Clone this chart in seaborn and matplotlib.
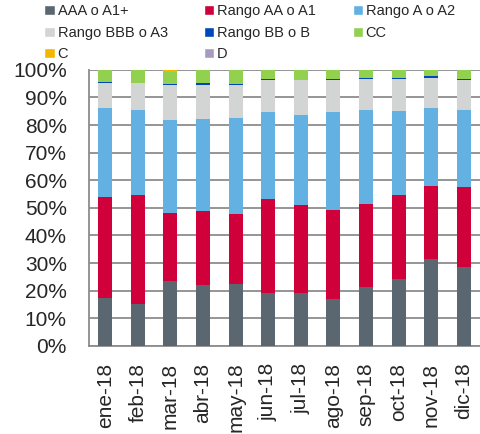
import numpy as np
import pandas as pd
import matplotlib
matplotlib.use("Agg")
import matplotlib.pyplot as plt
import seaborn as sns
from matplotlib.patches import Patch
from matplotlib.ticker import FixedLocator

months = ["ene-18", "feb-18", "mar-18", "abr-18", "may-18", "jun-18",
          "jul-18", "ago-18", "sep-18", "oct-18", "nov-18", "dic-18"]

# share of portfolio (%) by rating bucket
aaa = [17.2, 15.3, 23.5, 22.2, 22.6, 19.2, 19.2, 16.9, 21.2, 24.1, 31.6, 28.7]
aa = [36.9, 39.4, 24.6, 26.5, 25.2, 34.0, 31.9, 32.4, 30.3, 30.6, 26.5, 28.8]
a = [32.2, 30.9, 33.6, 33.5, 34.6, 31.5, 32.5, 35.4, 33.9, 30.3, 28.1, 28.1]
bbb = [9.0, 9.5, 12.8, 12.5, 12.1, 11.6, 12.6, 11.6, 11.4, 11.8, 11.0, 10.9]
bb = [0.4, 0.3, 0.5, 0.4, 0.5, 0.3, 0.2, 0.5, 0.4, 0.4, 0.4, 0.2]
cc = [4.1, 4.4, 4.3, 4.7, 4.8, 3.2, 3.4, 3.0, 2.6, 2.6, 2.2, 3.1]
c = [0.0, 0.0, 0.5, 0.0, 0.0, 0.0, 0.0, 0.0, 0.0, 0.0, 0.0, 0.0]
d = [0.2, 0.2, 0.2, 0.2, 0.2, 0.2, 0.2, 0.2, 0.2, 0.2, 0.2, 0.2]

series = ["AAA o A1+", "Rango AA o A1", "Rango A o A2", "Rango BBB o A3",
          "Rango BB o B", "CC", "C", "D"]
colors = ["#5b6770", "#d0003a", "#63b0e3", "#d3d4d4",
          "#0047bb", "#92d050", "#f2b700", "#a89bbf"]

df = pd.DataFrame(dict(zip(series, [aaa, aa, a, bbb, bb, cc, c, d])), index=months)
cum = df.cumsum(axis=1)

sns.set_style("white")
plt.rcParams["font.family"] = ["Liberation Sans", "DejaVu Sans"]

fig = plt.figure(figsize=(4.81, 4.34), dpi=100)
ax = fig.add_axes([0.185, 0.203, 0.813, 0.636])

# stacked bars: draw cumulative totals from top layer down
for name, col in reversed(list(zip(series, colors))):
    sns.barplot(x=months, y=cum[name].values, color=col, width=0.43,
                saturation=1, linewidth=0, ax=ax, zorder=3)

ax.set_ylim(0, 100)
ax.set_xlim(-0.5, len(months) - 0.5)
ax.set_yticks(np.arange(0, 101, 10))
ax.set_yticklabels([f"{v}%" for v in range(0, 101, 10)], fontsize=15)
ax.grid(axis="y", color="#8c8c8c", linewidth=1.3, zorder=0)
ax.set_axisbelow(True)

ax.set_xticks(range(len(months)))
ax.set_xticklabels(months, rotation=90, fontsize=15)
ax.tick_params(axis="x", which="major", length=0, pad=12)
ax.xaxis.set_minor_locator(FixedLocator(np.arange(-0.5, len(months), 1)))
ax.tick_params(axis="x", which="minor", length=5, color="#8c8c8c", width=1)
ax.tick_params(axis="y", length=7, color="#8c8c8c", width=1, direction="out", pad=9)

for s in ["top", "right"]:
    ax.spines[s].set_visible(False)
for s in ["left", "bottom"]:
    ax.spines[s].set_color("#8c8c8c")
    ax.spines[s].set_linewidth(1.3)

# legend, filled row by row
order = [0, 3, 6, 1, 4, 7, 2, 5]
handles = [Patch(facecolor=colors[i], label=series[i]) for i in order]
fig.legend(handles=handles, ncol=3, loc="upper left", bbox_to_anchor=(0.065, 1.02),
           frameon=False, fontsize=10.5, handlelength=0.7, handleheight=0.7,
           handletextpad=0.2, columnspacing=2.5, labelspacing=0.5)

fig.savefig("out.png", dpi=100)
